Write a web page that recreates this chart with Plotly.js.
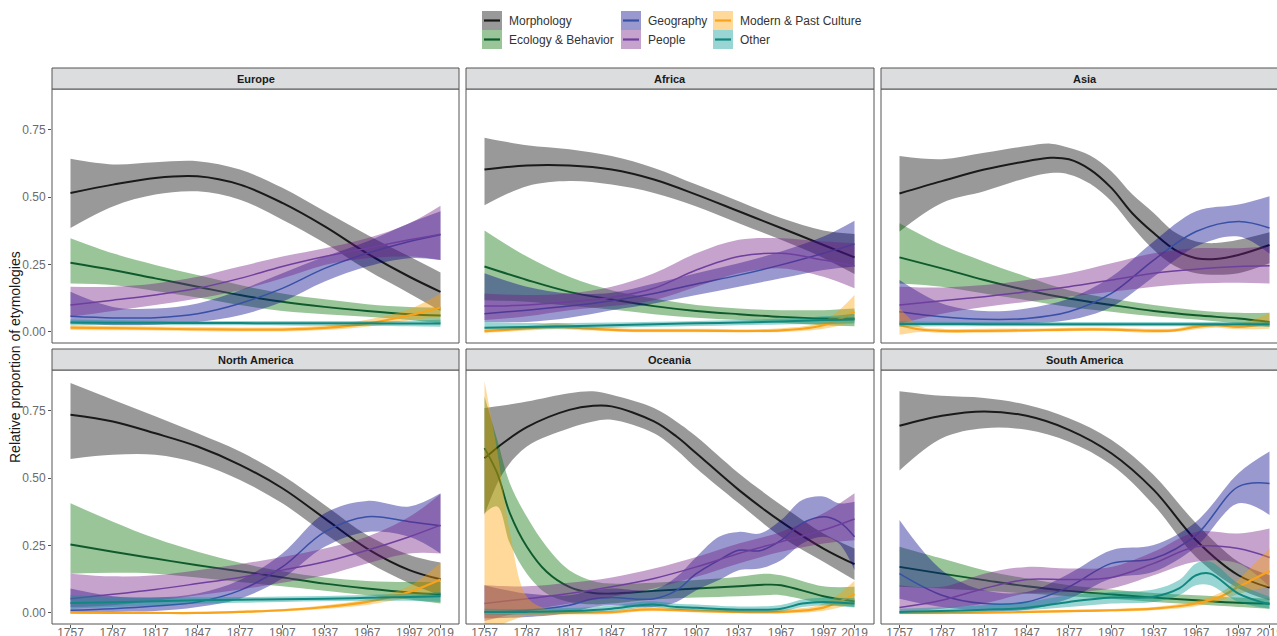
<!DOCTYPE html>
<html>
<head>
<meta charset="utf-8">
<script src="https://cdn.plot.ly/plotly-3.0.1.min.js"></script>
<style>html,body{margin:0;padding:0;background:#fff;overflow:hidden}#chart{width:1277px;height:636px}</style>
</head>
<body>
<div id="chart"></div>
<script>
// ---------------- DATA ----------------
const years = [1757,1787,1817,1847,1877,1907,1937,1967,1997,2019];
const tickYears = [1757,1787,1817,1847,1877,1907,1937,1967,1997,2019];
const tickLabels = ['1757','1787','1817','1847','1877','1907','1937','1967','1997','2019'];
const yTicks = [0,0.25,0.5,0.75];
const yTickLabels = ['0.00','0.25','0.50','0.75'];
const regions = ['Europe','Africa','Asia','North America','Oceania','South America'];
const categories = ['Morphology','Ecology & Behavior','Geography','People','Modern & Past Culture','Other'];
const lineColors = ['#1a1a1a','#0f5a2c','#3850a6','#6f3f9e','#f9a21b','#11877f'];
const fillColors = ['rgba(0,0,0,0.4)','rgba(0,110,0,0.4)','rgba(0,0,135,0.4)','rgba(112,25,130,0.4)','rgba(252,160,0,0.4)','rgba(0,150,145,0.4)'];

// Europe
const europe_morphology = {x: years,
  y: [0.516,0.547,0.572,0.578,0.547,0.479,0.392,0.292,0.205,0.149],
  hi:[0.643,0.622,0.630,0.634,0.603,0.535,0.448,0.361,0.280,0.221],
  lo:[0.386,0.466,0.510,0.522,0.491,0.417,0.330,0.230,0.143,0.078]};
const europe_ecology = {x: years,
  y: [0.257,0.230,0.199,0.168,0.137,0.112,0.093,0.078,0.066,0.061],
  hi:[0.348,0.292,0.249,0.211,0.174,0.143,0.121,0.103,0.093,0.091],
  lo:[0.180,0.174,0.152,0.128,0.100,0.078,0.066,0.056,0.044,0.031]};
const europe_geography = {x: years,
  y: [0.058,0.052,0.053,0.068,0.106,0.162,0.236,0.292,0.336,0.361],
  hi:[0.149,0.093,0.087,0.106,0.155,0.218,0.280,0.336,0.404,0.448],
  lo:[0.031,0.025,0.027,0.037,0.062,0.112,0.187,0.243,0.274,0.267]};
const europe_people = {x: years,
  y: [0.100,0.118,0.137,0.162,0.199,0.243,0.280,0.311,0.342,0.363],
  hi:[0.168,0.168,0.180,0.205,0.243,0.280,0.311,0.348,0.404,0.469],
  lo:[0.056,0.078,0.100,0.124,0.155,0.199,0.249,0.274,0.280,0.267]};
const europe_culture = {x: years,
  y: [0.016,0.014,0.012,0.010,0.009,0.009,0.015,0.031,0.062,0.091],
  hi:[0.025,0.022,0.020,0.018,0.017,0.017,0.024,0.045,0.085,0.143],
  lo:[0.007,0.006,0.005,0.003,0.002,0.002,0.007,0.019,0.043,0.056]};
const europe_other = {x: years,
  y: [0.035,0.034,0.034,0.033,0.033,0.032,0.032,0.032,0.031,0.031],
  hi:[0.046,0.043,0.042,0.041,0.041,0.041,0.041,0.041,0.042,0.045],
  lo:[0.025,0.026,0.026,0.025,0.025,0.024,0.023,0.022,0.021,0.019]};

// Africa
const africa_morphology = {x: years,
  y: [0.603,0.618,0.618,0.603,0.566,0.510,0.448,0.386,0.323,0.277],
  hi:[0.721,0.693,0.678,0.653,0.609,0.547,0.485,0.423,0.377,0.364],
  lo:[0.470,0.541,0.560,0.547,0.516,0.466,0.404,0.342,0.275,0.215]};
const africa_ecology = {x: years,
  y: [0.243,0.193,0.149,0.121,0.096,0.078,0.066,0.056,0.050,0.050],
  hi:[0.377,0.280,0.205,0.155,0.124,0.100,0.087,0.081,0.081,0.087],
  lo:[0.118,0.112,0.097,0.083,0.066,0.053,0.044,0.034,0.025,0.021]};
const africa_geography = {x: years,
  y: [0.068,0.081,0.096,0.116,0.143,0.178,0.211,0.249,0.292,0.326],
  hi:[0.218,0.168,0.143,0.146,0.180,0.218,0.255,0.299,0.354,0.413],
  lo:[0.037,0.037,0.053,0.081,0.106,0.137,0.168,0.199,0.230,0.243]};
const africa_people = {x: years,
  y: [0.096,0.100,0.112,0.128,0.162,0.230,0.280,0.292,0.267,0.245],
  hi:[0.143,0.137,0.143,0.168,0.218,0.292,0.342,0.348,0.336,0.330],
  lo:[0.044,0.058,0.081,0.096,0.118,0.168,0.218,0.236,0.205,0.162]};
const africa_culture = {x: [1757,1787,1808,1830,1857,1907,1967,1997,2019],
  y: [0.003,0.013,0.020,0.012,0.006,0.005,0.006,0.025,0.075],
  hi:[0.012,0.022,0.032,0.020,0.013,0.012,0.014,0.040,0.137],
  lo:[-0.004,0.005,0.010,0.005,0.000,-0.001,0.000,0.012,0.037]};
const africa_other = {x: years,
  y: [0.016,0.018,0.021,0.025,0.029,0.032,0.035,0.039,0.044,0.046],
  hi:[0.037,0.033,0.033,0.035,0.038,0.041,0.044,0.050,0.058,0.068],
  lo:[0.009,0.010,0.012,0.015,0.019,0.022,0.025,0.028,0.030,0.031]};

// Asia
const asia_morphology = {x: [1757,1787,1817,1847,1864,1877,1892,1907,1922,1937,1952,1967,1981,1997,2019],
  y: [0.514,0.560,0.603,0.634,0.647,0.641,0.603,0.535,0.440,0.367,0.305,0.274,0.271,0.286,0.323],
  hi:[0.653,0.641,0.665,0.690,0.699,0.684,0.655,0.597,0.510,0.442,0.370,0.336,0.330,0.342,0.370],
  lo:[0.373,0.479,0.522,0.572,0.590,0.585,0.550,0.485,0.390,0.305,0.245,0.218,0.212,0.218,0.255]};
const asia_ecology = {x: years,
  y: [0.277,0.236,0.193,0.155,0.124,0.100,0.078,0.062,0.050,0.037],
  hi:[0.404,0.323,0.261,0.205,0.155,0.124,0.100,0.081,0.071,0.071],
  lo:[0.180,0.168,0.143,0.118,0.093,0.075,0.058,0.046,0.031,0.019]};
const asia_geography = {x: years,
  y: [0.075,0.056,0.047,0.050,0.075,0.143,0.267,0.373,0.410,0.386],
  hi:[0.193,0.106,0.078,0.087,0.124,0.205,0.336,0.448,0.473,0.504],
  lo:[0.031,0.031,0.029,0.031,0.044,0.093,0.205,0.317,0.354,0.290]};
const asia_people = {x: years,
  y: [0.100,0.116,0.131,0.149,0.168,0.193,0.218,0.233,0.243,0.246],
  hi:[0.168,0.165,0.174,0.193,0.218,0.255,0.292,0.311,0.311,0.317],
  lo:[0.031,0.068,0.093,0.112,0.131,0.149,0.168,0.180,0.183,0.180]};
const asia_culture = {x: [1757,1772,1787,1817,1847,1877,1907,1937,1952,1967,1981,1997,2019],
  y: [0.025,0.009,0.004,0.004,0.006,0.009,0.009,0.004,0.006,0.019,0.025,0.019,0.031],
  hi:[0.090,0.020,0.012,0.012,0.013,0.016,0.016,0.012,0.013,0.028,0.034,0.030,0.070],
  lo:[-0.010,0.000,-0.003,-0.003,0.000,0.003,0.003,-0.003,0.000,0.010,0.016,0.010,0.012]};
const asia_other = {x: years,
  y: [0.030,0.030,0.029,0.029,0.029,0.029,0.029,0.029,0.029,0.029],
  hi:[0.040,0.038,0.037,0.037,0.037,0.037,0.037,0.037,0.037,0.039],
  lo:[0.020,0.021,0.021,0.021,0.021,0.021,0.021,0.021,0.021,0.019]};

// North America
const northamerica_morphology = {x: years,
  y: [0.736,0.711,0.667,0.618,0.550,0.463,0.351,0.239,0.159,0.125],
  hi:[0.854,0.792,0.730,0.667,0.599,0.511,0.401,0.289,0.215,0.187],
  lo:[0.572,0.587,0.587,0.556,0.494,0.407,0.295,0.190,0.110,0.065]};
const northamerica_ecology = {x: years,
  y: [0.254,0.227,0.202,0.177,0.155,0.132,0.109,0.091,0.076,0.069],
  hi:[0.407,0.339,0.277,0.227,0.186,0.155,0.132,0.119,0.115,0.115],
  lo:[0.146,0.149,0.146,0.132,0.115,0.099,0.082,0.066,0.050,0.035]};
const northamerica_geography = {x: years,
  y: [0.010,0.016,0.026,0.041,0.084,0.171,0.301,0.357,0.339,0.324],
  hi:[0.091,0.062,0.057,0.072,0.122,0.221,0.370,0.416,0.395,0.444],
  lo:[0.000,0.004,0.007,0.022,0.053,0.128,0.246,0.301,0.283,0.221]};
const northamerica_people = {x: years,
  y: [0.053,0.069,0.087,0.109,0.132,0.159,0.190,0.233,0.283,0.326],
  hi:[0.146,0.136,0.140,0.159,0.181,0.208,0.239,0.283,0.357,0.442],
  lo:[0.022,0.029,0.045,0.066,0.087,0.112,0.140,0.184,0.221,0.221]};
const northamerica_culture = {x: years,
  y: [0.001,0.000,0.000,0.000,0.004,0.010,0.022,0.041,0.078,0.124],
  hi:[0.006,0.004,0.003,0.004,0.008,0.015,0.029,0.052,0.100,0.186],
  lo:[-0.004,-0.004,-0.003,-0.003,0.000,0.005,0.015,0.030,0.056,0.072]};
const northamerica_other = {x: years,
  y: [0.037,0.040,0.043,0.047,0.049,0.051,0.053,0.056,0.059,0.062],
  hi:[0.066,0.060,0.058,0.058,0.059,0.061,0.063,0.067,0.072,0.078],
  lo:[0.016,0.022,0.028,0.034,0.038,0.041,0.043,0.045,0.045,0.041]};

// Oceania
const oceania_morphology = {x: [1757,1770,1787,1817,1834,1847,1877,1893,1907,1937,1967,1997,2019],
  y: [0.574,0.630,0.690,0.754,0.769,0.767,0.711,0.655,0.593,0.457,0.339,0.239,0.181],
  hi:[0.761,0.770,0.785,0.816,0.823,0.810,0.761,0.710,0.655,0.519,0.401,0.295,0.239],
  lo:[0.364,0.519,0.618,0.686,0.711,0.717,0.667,0.605,0.537,0.407,0.283,0.190,0.122]};
const oceania_ecology = {x: [1757,1766,1775,1787,1801,1817,1834,1847,1877,1907,1937,1956,1967,1997,2019],
  y: [0.612,0.519,0.370,0.246,0.153,0.097,0.074,0.072,0.082,0.091,0.099,0.105,0.103,0.062,0.043],
  hi:[0.804,0.643,0.481,0.357,0.246,0.159,0.119,0.109,0.112,0.122,0.134,0.146,0.140,0.099,0.097],
  lo:[0.370,0.395,0.258,0.146,0.072,0.041,0.032,0.035,0.050,0.057,0.062,0.066,0.066,0.035,0.022]};
const oceania_geography = {x: [1757,1787,1817,1834,1847,1877,1893,1907,1923,1937,1952,1967,1982,1997,2008,2019],
  y: [0.004,0.010,0.029,0.053,0.057,0.053,0.084,0.146,0.196,0.233,0.231,0.270,0.333,0.357,0.339,0.283],
  hi:[0.103,0.072,0.066,0.084,0.091,0.087,0.134,0.208,0.283,0.301,0.295,0.345,0.419,0.432,0.407,0.413],
  lo:[-0.020,-0.015,0.000,0.022,0.029,0.022,0.041,0.084,0.122,0.159,0.165,0.196,0.258,0.283,0.258,0.159]};
const oceania_people = {x: years,
  y: [0.035,0.053,0.072,0.097,0.128,0.171,0.221,0.264,0.308,0.349],
  hi:[0.103,0.099,0.112,0.132,0.165,0.208,0.258,0.301,0.370,0.444],
  lo:[-0.030,0.007,0.035,0.060,0.091,0.134,0.184,0.227,0.258,0.270]};
const oceania_culture = {x: [1757,1766,1775,1787,1801,1817,1847,1867,1877,1907,1937,1967,1997,2019],
  y: [0.001,0.001,0.001,0.001,0.001,0.001,0.003,0.012,0.013,0.008,0.004,0.004,0.020,0.070],
  hi:[0.860,0.600,0.300,0.060,0.015,0.008,0.008,0.020,0.020,0.015,0.010,0.012,0.035,0.120],
  lo:[-0.050,-0.050,-0.030,-0.010,-0.008,-0.006,-0.004,0.005,0.006,0.002,-0.002,-0.002,0.008,0.035]};
const oceania_other = {x: [1757,1787,1817,1847,1867,1877,1893,1907,1937,1967,1982,1997,2019],
  y: [0.004,0.004,0.007,0.016,0.029,0.031,0.022,0.019,0.012,0.016,0.035,0.041,0.035],
  hi:[0.016,0.015,0.018,0.028,0.041,0.043,0.034,0.031,0.024,0.030,0.050,0.056,0.055],
  lo:[-0.006,-0.006,-0.003,0.006,0.019,0.021,0.012,0.009,0.002,0.005,0.022,0.028,0.020]};

// South America
const southamerica_morphology = {x: years,
  y: [0.695,0.732,0.748,0.732,0.680,0.593,0.457,0.270,0.140,0.094],
  hi:[0.823,0.806,0.798,0.773,0.723,0.643,0.512,0.333,0.190,0.140],
  lo:[0.529,0.649,0.686,0.680,0.636,0.550,0.401,0.208,0.091,0.047]};
const southamerica_ecology = {x: years,
  y: [0.171,0.146,0.122,0.099,0.082,0.069,0.057,0.047,0.038,0.035],
  hi:[0.246,0.202,0.159,0.128,0.103,0.087,0.074,0.066,0.057,0.053],
  lo:[0.097,0.091,0.082,0.072,0.062,0.053,0.041,0.032,0.022,0.016]};
const southamerica_geography = {x: years,
  y: [0.146,0.066,0.035,0.041,0.097,0.184,0.202,0.289,0.469,0.481],
  hi:[0.345,0.159,0.084,0.078,0.146,0.233,0.252,0.339,0.519,0.599],
  lo:[0.053,0.022,0.010,0.012,0.053,0.128,0.153,0.246,0.407,0.364]};
const southamerica_people = {x: years,
  y: [0.020,0.047,0.091,0.124,0.124,0.132,0.184,0.246,0.239,0.206],
  hi:[0.103,0.097,0.146,0.171,0.165,0.171,0.227,0.301,0.295,0.314],
  lo:[0.004,0.016,0.035,0.072,0.078,0.091,0.140,0.190,0.184,0.097]};
const southamerica_culture = {x: [1757,1817,1877,1907,1937,1967,1984,1997,2019],
  y: [0.000,0.001,0.007,0.010,0.016,0.035,0.060,0.097,0.156],
  hi:[0.005,0.005,0.012,0.015,0.022,0.045,0.075,0.125,0.240],
  lo:[-0.005,-0.003,0.003,0.005,0.010,0.025,0.045,0.070,0.097]};
const southamerica_other = {x: [1757,1817,1847,1877,1907,1937,1955,1967,1977,1997,2019],
  y: [0.004,0.012,0.019,0.041,0.057,0.060,0.091,0.140,0.146,0.072,0.032],
  hi:[0.016,0.029,0.041,0.066,0.078,0.087,0.122,0.184,0.190,0.109,0.060],
  lo:[-0.004,0.004,0.010,0.022,0.035,0.041,0.066,0.103,0.103,0.041,0.016]};

const panelSeries = [
  [europe_morphology, europe_ecology, europe_geography, europe_people, europe_culture, europe_other],
  [africa_morphology, africa_ecology, africa_geography, africa_people, africa_culture, africa_other],
  [asia_morphology, asia_ecology, asia_geography, asia_people, asia_culture, asia_other],
  [northamerica_morphology, northamerica_ecology, northamerica_geography, northamerica_people, northamerica_culture, northamerica_other],
  [oceania_morphology, oceania_ecology, oceania_geography, oceania_people, oceania_culture, oceania_other],
  [southamerica_morphology, southamerica_ecology, southamerica_geography, southamerica_people, southamerica_culture, southamerica_other]
];

// ---------------- LAYOUT ----------------
const W = 1277, H = 636;
const colPx = [[52,459],[466,874],[881,1277]];
const rowPx = [[89,343],[370,624]];      // plot area top/bottom
const stripPx = [[68,89],[349,370]];     // strip top/bottom
const pxPerYear = 407/288.2;
const x0 = 1743.9;
const yRange = [-0.041, 0.902];
const lineWidths = [2.0, 1.9, 1.5, 1.5, 2.2, 2.0];
const FONT = 'Liberation Sans, Arial, sans-serif';

const fx = p => p / W;
const fy = p => 1 - p / H;

const traces = [];
const layout = {
  width: W, height: H,
  margin: {l:0, r:0, t:0, b:0},
  paper_bgcolor: '#ffffff', plot_bgcolor: '#ffffff',
  showlegend: false,
  font: {family: FONT, color: '#333'},
  shapes: [], annotations: []
};

regions.forEach((reg, i) => {
  const r = Math.floor(i / 3), c = i % 3;
  const sfx = i === 0 ? '' : String(i + 1);
  const xa = 'x' + sfx, ya = 'y' + sfx;
  const colW = colPx[c][1] - colPx[c][0];
  layout['xaxis' + sfx] = {
    domain: [fx(colPx[c][0]), fx(colPx[c][1])],
    range: [x0, x0 + colW / pxPerYear],
    anchor: ya, showgrid: false, zeroline: false, showline: false,
    tickmode: 'array', tickvals: tickYears, ticktext: tickLabels,
    ticks: r === 1 ? 'outside' : '', ticklen: 3, tickcolor: '#555', tickwidth: 1,
    showticklabels: r === 1, ticklabelstandoff: -5, ticklabeloverflow: 'allow',
    tickfont: {size: 12, color: '#6b6b6b', family: FONT},
    fixedrange: true
  };
  layout['yaxis' + sfx] = {
    domain: [fy(rowPx[r][1]), fy(rowPx[r][0])],
    range: yRange, anchor: xa, showgrid: false, zeroline: false, showline: false,
    tickmode: 'array', tickvals: yTicks, ticktext: yTickLabels,
    ticks: c === 0 ? 'outside' : '', ticklen: 3, tickcolor: '#555', tickwidth: 1,
    showticklabels: c === 0,
    tickfont: {size: 12, color: '#6b6b6b', family: FONT},
    fixedrange: true
  };

  panelSeries[i].forEach((s, k) => {
    traces.push({x: s.x, y: s.hi, xaxis: xa, yaxis: ya, type: 'scatter', mode: 'lines',
      line: {width: 0, shape: 'spline', color: 'rgba(0,0,0,0)'}, hoverinfo: 'skip'});
    traces.push({x: s.x, y: s.lo, xaxis: xa, yaxis: ya, type: 'scatter', mode: 'lines',
      line: {width: 0, shape: 'spline', color: 'rgba(0,0,0,0)'}, fill: 'tonexty',
      fillcolor: fillColors[k], hoverinfo: 'skip'});
    traces.push({x: s.x, y: s.y, xaxis: xa, yaxis: ya, type: 'scatter', mode: 'lines',
      name: categories[k], line: {width: lineWidths[k], shape: 'spline', color: lineColors[k]}});
  });

  // panel border
  const right = c === 2 ? colPx[c][1] + 20 : colPx[c][1];
  layout.shapes.push({type: 'rect', xref: 'paper', yref: 'paper',
    x0: fx(colPx[c][0]), x1: fx(right), y0: fy(rowPx[r][1]), y1: fy(rowPx[r][0]),
    line: {color: '#555', width: 1}, fillcolor: 'rgba(0,0,0,0)', layer: 'above'});
  // strip
  layout.shapes.push({type: 'rect', xref: 'paper', yref: 'paper',
    x0: fx(colPx[c][0]), x1: fx(right), y0: fy(stripPx[r][1]), y1: fy(stripPx[r][0]),
    line: {color: '#555', width: 1}, fillcolor: '#dcdddf', layer: 'above'});
  layout.annotations.push({xref: 'paper', yref: 'paper',
    x: fx((colPx[c][0] + colPx[c][0] + 407) / 2), y: fy((stripPx[r][0] + stripPx[r][1]) / 2),
    text: '<b>' + reg + '</b>', showarrow: false, xanchor: 'center', yanchor: 'middle',
    font: {size: 11, color: '#1a1a1a', family: FONT}});
});

// y axis title
layout.annotations.push({xref: 'paper', yref: 'paper', x: fx(15), y: fy(357),
  text: 'Relative proportion of etymologies', textangle: -90, showarrow: false,
  xanchor: 'center', yanchor: 'middle',
  font: {size: 14, color: '#1a1a1a', family: FONT}});

// legend (manual, ggplot style)
const legendCols = [482, 621, 713];
const legendRows = [11, 30];
categories.forEach((cat, k) => {
  const col = Math.floor(k / 2), row = k % 2;
  const lx = legendCols[col], ly = legendRows[row];
  layout.shapes.push({type: 'rect', xref: 'paper', yref: 'paper',
    x0: fx(lx), x1: fx(lx + 20), y0: fy(ly + 19), y1: fy(ly),
    line: {width: 0}, fillcolor: fillColors[k]});
  layout.shapes.push({type: 'line', xref: 'paper', yref: 'paper',
    x0: fx(lx + 2), x1: fx(lx + 18), y0: fy(ly + 9.5), y1: fy(ly + 9.5),
    line: {width: 2.2, color: lineColors[k]}});
  layout.annotations.push({xref: 'paper', yref: 'paper', x: fx(lx + 25), y: fy(ly + 10),
    text: cat, showarrow: false, xanchor: 'left', yanchor: 'middle',
    font: {size: 12, color: '#333', family: FONT}});
});

Plotly.newPlot('chart', traces, layout, {displayModeBar: false, staticPlot: true});
</script>
</body>
</html>
